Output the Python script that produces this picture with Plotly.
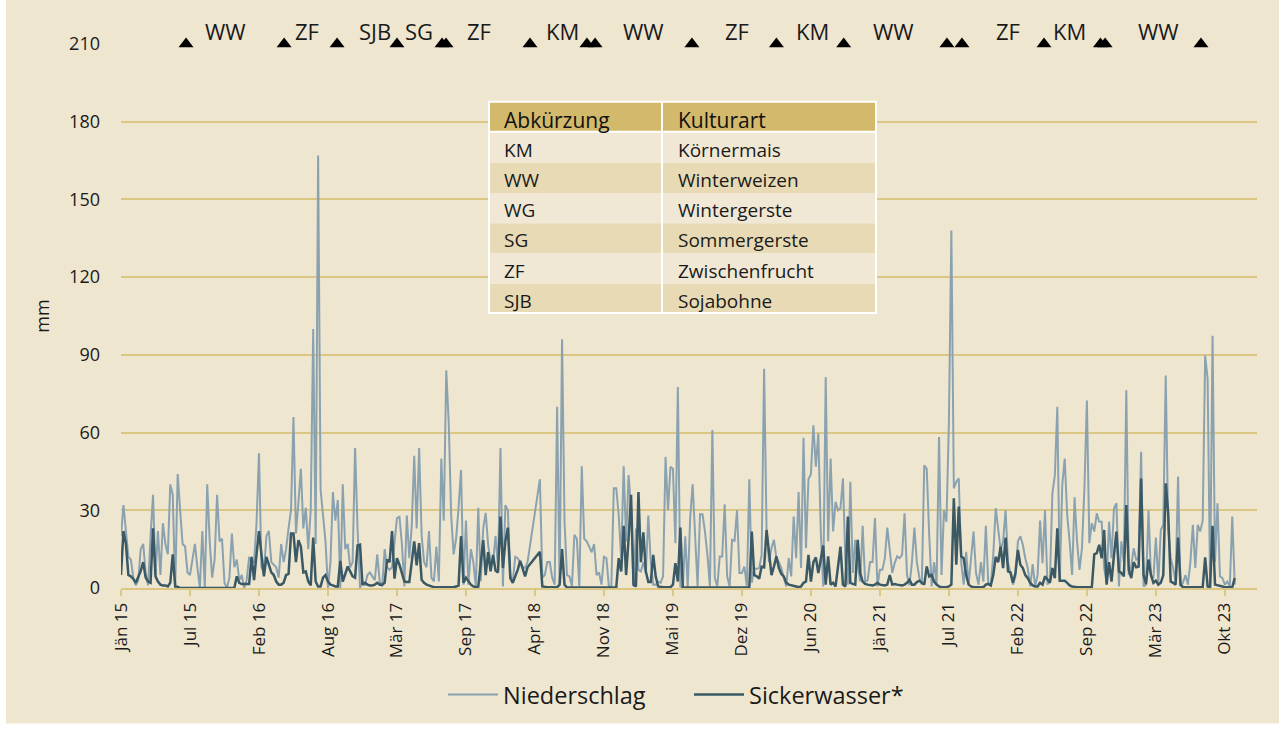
import plotly.graph_objects as go

# ---------------- data ----------------
tick_index = [0, 28, 56, 84, 112, 140, 168, 196, 224, 252, 280, 308, 336, 364, 392, 420, 448]
tick_labels = ["Jän 15", "Jul 15", "Feb 16", "Aug 16", "Mär 17", "Sep 17", "Apr 18", "Nov 18",
               "Mai 19", "Dez 19", "Jun 20", "Jän 21", "Jul 21", "Feb 22", "Sep 22", "Mär 23", "Okt 23"]

niederschlag = [
    20, 32, 22, 12, 11, 4, 1, 3, 15, 17,
    6, 1, 20, 36, 5, 22, 5, 25, 17, 13,
    40, 36, 0, 44, 30, 17, 16, 6, 5, 11,
    17, 8, 0, 22, 0, 40, 18, 4, 11, 36,
    18, 19, 2, 0, 4, 21, 8, 11, 3, 5,
    0, 3, 12, 10, 10, 25, 52, 8, 6, 20,
    22, 10, 9, 8, 4, 17, 10, 15, 23, 30,
    66, 21, 33, 46, 23, 31, 15, 30, 100, 17,
    167, 38, 28, 18, 0, 10, 37, 26, 34, 0,
    40, 15, 17, 8, 10, 54, 23, 0, 2.5, 1,
    5, 6, 4.5, 3, 13, 2.5, 0.6, 15, 8, 7,
    8, 17, 27, 27.5, 17, 0.6, 28, 11.5, 24, 51,
    23, 54, 20.5, 10, 8, 22, 4, 2.5, 16, 2.5,
    50, 26, 84, 64, 28, 13, 19, 31, 45.5, 1.3,
    26, 1.3, 15, 10, 0.6, 31, 2.5, 23, 29, 16.7,
    10, 10, 20, 8, 54, 0.6, 32, 30, 5, 2.5,
    12, 11.5, 10, 8.3, 7.7, 10, None, None, None, None,
    42, 4, 5, 10, 10, 4, 1.3, 70, 1.3, 96,
    25.6, 5, 4.5, 0.6, 20.5, 19, 0.6, 47, 19, 18,
    16, 13.8, 17, 5, 6, 1.3, 12, 11.5, 0.6, 0.6,
    38.5, 38.5, 28, 11.5, 47, 18, 43.6, 30.8, 0.6, 23,
    7, 6.4, 10, 5.8, 28, 10, 1.3, 1.3, 2.5, 2,
    4.5, 50.6, 30, 46.8, 46, 17.3, 77.6, 0.6, 0.3, 20,
    0.3, 27, 40, 22.4, 0.6, 28.5, 28.5, 21.8, 12.8, 0.6,
    61, 3.8, 0.6, 12.2, 12.2, 32.3, 4.5, 0.6, 18.6, 18.2,
    30, 5.8, 5.8, 8.3, 0.6, 42, 2, 7.4, 7.4, 7.7,
    12.8, 84.6, 22.4, 10, 15.4, 18.6, 11.5, 10, 7.7, 3.8,
    0.6, 11.5, 4.5, 27.6, 11.5, 37, 7.7, 58, 15.4, 42,
    44, 62.8, 46.8, 59.6, 21.8, 0.6, 81.4, 18, 50, 21.8,
    33.3, 30, 30.8, 42.3, 10, 1.3, 41, 5.8, 18.6, 9,
    2.5, 24, 2.5, 3, 10, 10, 27, 0.6, 7, 7,
    11.5, 23.3, 14, 5.8, 9.6, 12.2, 11.5, 12.8, 28.8, 5,
    1, 10, 23.3, 10, 4, 1.3, 47.4, 46, 20.5, 0.6,
    10, 1.3, 58.3, 5, 30, 25.6, 64, 138, 38.5, 41,
    42.3, 10, 1.3, 14, 1.3, 11.5, 21.8, 5.8, 1.3, 10,
    2.5, 24, 1.3, 1.3, 12.8, 30.8, 23, 14.7, 18, 30,
    10, 5, 1.3, 4.5, 18, 20, 16.7, 11.5, 7.7, 0.6,
    9.2, 0.6, 5, 26, 9.6, 30, 1.3, 3, 36.5, 43.6,
    70, 2.5, 39.7, 50, 28.2, 18, 5, 35, 18, 7,
    15.4, 38.5, 72.4, 17.3, 25, 21.8, 28.8, 25.6, 25.6, 7.7,
    2, 25.6, 11.5, 30.8, 32.7, 0.6, 18, 10, 76.3, 5,
    8.3, 15.4, 10.9, 11.5, 52.6, 0.6, 1.3, 30, 5, 3.8,
    19.5, 2, 22.4, 24.4, 82, 23, 11.5, 7.7, 2.5, 43,
    0.6, 2, 5, 1.3, 10, 24.4, 7.7, 24.4, 21.8, 26,
    89.7, 80.8, 1.3, 97.4, 10, 32.7, 4.5, 3.8, 1.3, 2.5,
    0.6, 27.6, 1.3,
]

sickerwasser = [
    5, 22, 17, 5, 4.5, 3.5, 2, 4.5, 6.5, 10,
    4, 2.5, 2, 23, 4.5, 2.5, 1.3, 1, 1, 0.6,
    2, 13, 0.6, 0.5, 0, 0, 0, 0, 0, 0,
    0, 0, 0, 0, 0, 0, 0, 0, 0, 0,
    0, 0, 0, 0, 0, 0, 0, 4.5, 2, 1.5,
    1.5, 1.5, 1.5, 12, 3, 13, 22, 13, 4.5, 12,
    9, 6, 5, 2.5, 1.3, 1.3, 2, 5, 5.4, 21,
    21, 10, 18.5, 16, 6, 6.4, 2.5, 1, 19.5, 2.5,
    0.6, 0.6, 4, 5, 2.5, 1.3, 1, 0.6, 0.6, 10.5,
    2.5, 5.4, 8.3, 6.4, 4.5, 4, 16.4, 16.7, 1.3, 2,
    1.3, 1, 1, 1.3, 2, 1.3, 1.3, 2, 11, 10,
    22, 3.6, 11.5, 9, 5.8, 2.5, 2.3, 2.3, 10, 18,
    8.7, 17.3, 3.2, 2, 1.3, 1, 0.6, 0.3, 0.3, 0.3,
    0.3, 0.3, 0.3, 0.3, 0.3, 0.3, 0.6, 0.9, 20, 2,
    4, 2.5, 1.3, 0.6, 0.3, 0.5, 10, 18.5, 5, 13.8,
    6.4, 12.8, 6.7, 6, 27.6, 7.7, 18, 23.3, 3.8, 2,
    4.5, 7, 10.5, 7.7, 4.5, 8, None, None, None, None,
    14, 0.6, 0.3, 0.3, 0.3, 0.3, 0.3, 0.3, 1.3, 15,
    1.3, 0.2, 0.2, 0.2, 0.2, 0.2, 0.2, 0.2, 0.2, 0.2,
    0.2, 0.2, 0.2, 0.2, 0.2, 0.2, 0.2, 0.2, 0.2, 0.2,
    0.2, 0.2, 11.5, 6.4, 24, 5, 19, 36, 1.3, 0.6,
    37, 10, 21.5, 6.4, 2.3, 2.3, 12.8, 4.5, 0.6, 0.3,
    0.3, 0.3, 0.3, 0.3, 1.3, 9.6, 2.5, 23.3, 0.2, 0.2,
    0.2, 0.2, 0.2, 0.2, 0.2, 0.2, 0.2, 0.2, 0.2, 0.2,
    0.2, 0.2, 0.2, 0.2, 0.2, 0.2, 0.2, 0.2, 0.2, 0.2,
    0.2, 0.2, 0.2, 0.2, 0.2, 0.2, 21.8, 5, 4.5, 3.6,
    8.3, 8, 22.4, 12.8, 5, 8.3, 12.2, 7.7, 5.4, 4.5,
    2, 1.3, 1, 0.6, 0.6, 0.3, 0.6, 2, 2.5, 12.8,
    2.5, 10, 11.8, 5.8, 11, 16.4, 1.3, 12.2, 1.3, 2,
    0.6, 7.7, 16, 1.3, 0.6, 27.6, 2, 1.6, 1.3, 18.6,
    5.8, 2.5, 1.6, 1.3, 1, 1, 1.3, 2, 1.3, 1,
    1, 1.3, 5, 1.3, 1.5, 1.3, 1, 1, 1.3, 2,
    3.2, 1.3, 1.3, 2.3, 2.8, 2, 1.3, 8.3, 4.5, 5,
    2.5, 1.3, 0.6, 0.3, 0.3, 0.3, 0.6, 1.3, 34.6, 9,
    31.4, 12.2, 11.5, 5, 1.3, 0.6, 0.3, 0.3, 0.3, 0.3,
    0.3, 1.3, 1.6, 1, 5, 12, 10, 16, 7.7, 19.5,
    6.4, 6, 2, 5.8, 14.7, 9, 7.7, 5, 3.8, 2,
    1, 0.6, 0.6, 2, 1.3, 4.5, 3, 2, 7.7, 3.8,
    23, 2.8, 2.8, 2.8, 2, 1, 0.6, 0.3, 0.3, 0.3,
    0.3, 0.3, 0.3, 0.3, 0.3, 13, 13.5, 16.7, 11.5, 22.4,
    1.3, 10, 2.5, 12.8, 21.8, 6.4, 5.8, 4.5, 32, 7,
    3.8, 10, 8, 8.3, 42.3, 5, 1.5, 11, 5, 2,
    2.8, 1.3, 2, 5, 40.4, 28.8, 2.5, 2, 1.3, 19.5,
    1.3, 0.3, 0.3, 0.3, 0.3, 0.3, 0.3, 0.3, 0.3, 0.3,
    11.8, 0.6, 0.3, 24, 1.3, 1, 0.6, 0.6, 0.3, 0.3,
    0.3, 0.3, 3.8,
]

period = list(range(len(niederschlag)))

# crop change events (positions on the period axis) and crop labels
event_pos = [26.4, 66.2, 87.7, 112, 130.3, 131.9, 166, 189.1, 192.4, 231.7, 266,
             293.3, 335.2, 341.3, 374.6, 397.5, 399.4, 438.3]
event_level = 210
crop_labels = ["WW", "ZF", "SJB", "SG", "ZF", "KM", "WW", "ZF", "KM", "WW", "ZF", "KM", "WW"]
crop_label_pos = [42.6, 75.5, 103.1, 121.1, 145.3, 179, 211.9, 250, 280.8, 313.7, 360, 385.1, 420.9]

table_header = ["Abkürzung", "Kulturart"]
abbr = ["KM", "WW", "WG", "SG", "ZF", "SJB"]
kulturart = ["Körnermais", "Winterweizen", "Wintergerste", "Sommergerste", "Zwischenfrucht", "Sojabohne"]

# ---------------- style ----------------
FONT = "Open Sans"
BG = "#EFE6D0"
GRID = "#DCC684"
N_COLOR = "#8AA2B0"
SW_COLOR = "#3A5964"
TXT = "#1A1A1A"
HEAD = "#D3B96B"
ROW_LIGHT = "#F0E8D5"
ROW_DARK = "#E7DAB5"

W, H = 1279, 729
ML, MR, MT, MB = 121, 22, 44, 139
PW, PH = W - ML - MR, H - MT - MB


def px_x(x):
    return (x - ML) / PW


def px_y(y):
    return (H - MB - y) / PH


fig = go.Figure()
fig.add_trace(go.Scatter(x=period, y=niederschlag, mode="lines", name="Niederschlag",
                         line=dict(color=N_COLOR, width=2), connectgaps=True))
fig.add_trace(go.Scatter(x=period, y=sickerwasser, mode="lines", name="Sickerwasser*",
                         line=dict(color=SW_COLOR, width=2.5), connectgaps=True))
fig.add_trace(go.Scatter(x=event_pos, y=[event_level] * len(event_pos), mode="markers",
                         marker=dict(symbol="triangle-up", size=13, color="black"),
                         showlegend=False, cliponaxis=False, hoverinfo="skip"))

annotations = []
for lab, pos in zip(crop_labels, crop_label_pos):
    annotations.append(dict(x=pos, y=event_level, xref="x", yref="y", text=lab, showarrow=False,
                            yanchor="middle", yshift=13, font=dict(family=FONT, size=22, color=TXT)))

shapes = [
    # beige background panel (white strip at left/bottom)
    dict(type="rect", xref="paper", yref="paper", x0=px_x(6), x1=px_x(W + 5), y0=px_y(726), y1=px_y(-5),
         fillcolor=BG, line=dict(width=0), layer="below"),
]

# table (legend of abbreviations)
t_left, t_mid, t_right = 488, 662, 877
t_top, head_bottom, t_bottom = 101, 132, 314
row_h = (t_bottom - head_bottom) / len(abbr)
shapes.append(dict(type="rect", xref="paper", yref="paper", x0=px_x(t_left), x1=px_x(t_right),
                   y0=px_y(t_bottom + 1), y1=px_y(t_top), fillcolor="white", line=dict(width=0), layer="above"))
for c0, c1 in [(t_left + 2, t_mid - 1), (t_mid + 1, t_right - 2)]:
    shapes.append(dict(type="rect", xref="paper", yref="paper", x0=px_x(c0), x1=px_x(c1),
                       y0=px_y(head_bottom - 1), y1=px_y(t_top + 2), fillcolor=HEAD, line=dict(width=0),
                       layer="above"))
    for k in range(len(abbr)):
        y0 = head_bottom + 1 + k * row_h
        y1 = min(y0 + row_h, t_bottom - 1)
        shapes.append(dict(type="rect", xref="paper", yref="paper", x0=px_x(c0), x1=px_x(c1),
                           y0=px_y(y1), y1=px_y(y0), fillcolor=ROW_LIGHT if k % 2 == 0 else ROW_DARK,
                           line=dict(width=0), layer="above"))

for j, (txt, xx) in enumerate(zip(table_header, [t_left + 14, t_mid + 14])):
    annotations.append(dict(x=px_x(xx), y=px_y(120), xref="paper", yref="paper", text=txt, showarrow=False,
                            xanchor="left", yanchor="middle", font=dict(family=FONT, size=21, color="#111")))
for k in range(len(abbr)):
    yc = head_bottom + 1 + k * row_h + row_h / 2 + 2
    annotations.append(dict(x=px_x(t_left + 14), y=px_y(yc), xref="paper", yref="paper", text=abbr[k],
                            showarrow=False, xanchor="left", yanchor="middle",
                            font=dict(family=FONT, size=19, color=TXT)))
    annotations.append(dict(x=px_x(t_mid + 14), y=px_y(yc), xref="paper", yref="paper", text=kulturart[k],
                            showarrow=False, xanchor="left", yanchor="middle",
                            font=dict(family=FONT, size=19, color=TXT)))

fig.update_layout(
    width=W, height=H,
    margin=dict(l=ML, r=MR, t=MT, b=MB, pad=0),
    paper_bgcolor="white",
    plot_bgcolor="rgba(0,0,0,0)",
    font=dict(family=FONT, color=TXT),
    showlegend=True,
    legend=dict(orientation="h", x=px_x(443), xanchor="left", y=px_y(697), yanchor="middle",
                font=dict(family=FONT, size=23.5, color=TXT), bgcolor="rgba(0,0,0,0)",
                itemwidth=50, entrywidth=181, entrywidthmode="pixels", tracegroupgap=0),
    shapes=shapes,
    annotations=annotations,
    xaxis=dict(range=[0, PW / 2.464], tickmode="array", tickvals=tick_index, ticktext=tick_labels,
               tickangle=-90, ticks="outside", ticklen=6, tickwidth=1.5, tickcolor=GRID,
               showline=True, linecolor=GRID, linewidth=2, showgrid=False, zeroline=False,
               tickfont=dict(family=FONT, size=17, color=TXT), fixedrange=True),
    yaxis=dict(range=[0, 210], tick0=0, dtick=30, showgrid=True, gridcolor=GRID, gridwidth=1.5,
               zeroline=False, showline=False, ticks="", ticklabelstandoff=20,
               tickfont=dict(family=FONT, size=18, color=TXT),
               title=dict(text="mm", font=dict(family=FONT, size=18, color=TXT), standoff=14),
               fixedrange=True),
)

fig.write_html("out.html", config={"displayModeBar": False},
               post_script="document.body.style.margin='0';document.body.style.overflow='hidden';")
